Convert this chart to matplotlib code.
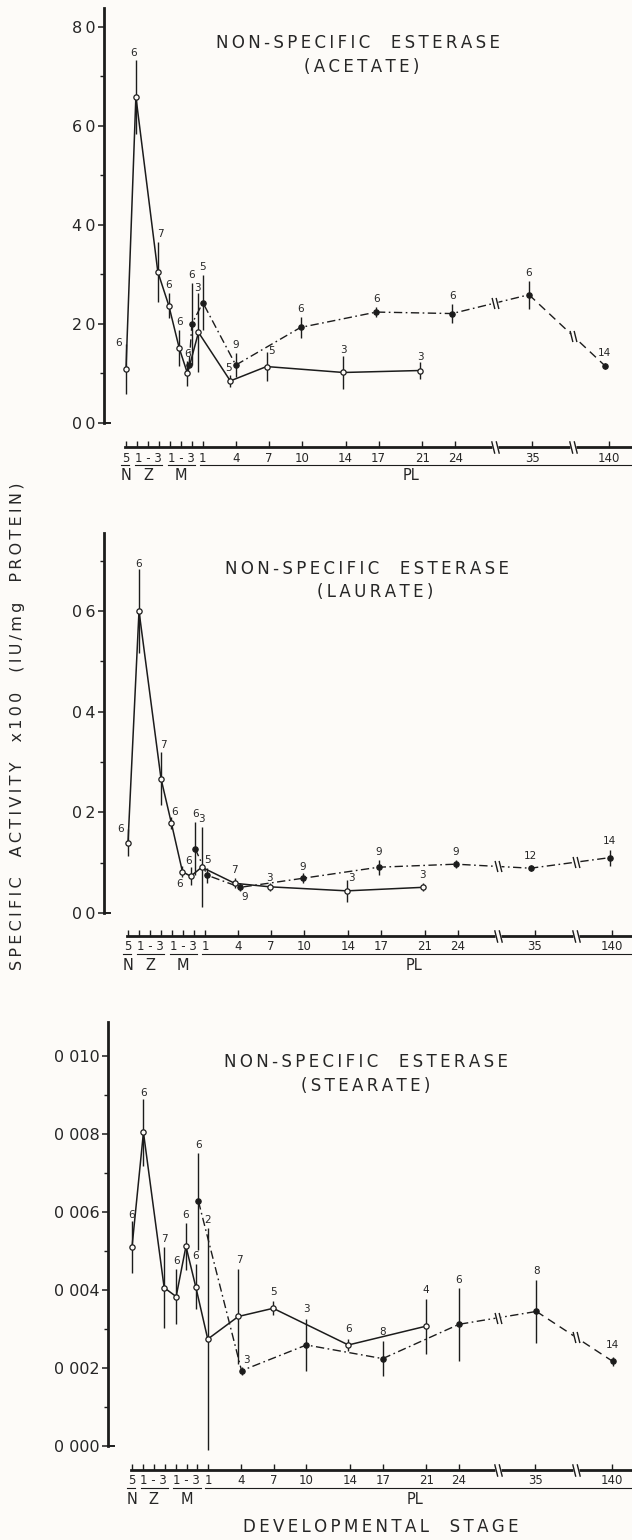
import matplotlib.pyplot as plt
import numpy as np
from matplotlib.path import Path

W, H = 632, 1540
BG = '#fdfbf8'
INK = '#1c1c1c'
TXT = '#262626'

plt.rcParams['font.family'] = ['DejaVu Sans']
plt.rcParams['text.color'] = TXT
plt.rcParams['axes.edgecolor'] = INK
plt.rcParams['xtick.color'] = INK
plt.rcParams['ytick.color'] = INK
plt.rcParams['ytick.labelcolor'] = TXT

# developmental stage scale: one unit per larval stage / PL day, compressed after PL24
stage_ticks = [0, 1, 2, 3, 4, 5, 6, 7, 10, 13, 16, 20, 23, 27, 30, 37, 44]
stage_label_x = [0, 2, 5, 7, 10, 13, 16, 20, 23, 27, 30, 37, 44]
stage_label_text = ['5', '1 - 3', '1 - 3', '1', '4', '7', '10', '14', '17', '21', '24', '35', '140']
group_x = [0, 2, 5, 26]
group_text = ['N', 'Z', 'M', 'PL']
group_spans = [(-0.5, 0.3), (0.8, 3.3), (3.8, 6.3), (6.7, 47)]
axis_breaks = [33.6, 40.7]

# acetate
ace_open_x = [0.0, 0.9, 2.9, 3.9, 4.85, 5.6, 6.6, 9.5, 12.8, 19.8, 26.8]
ace_open_y = [10.9, 65.9, 30.5, 23.7, 15.1, 10.0, 18.3, 8.5, 11.4, 10.2, 10.6]
ace_open_err = [5.0, 7.5, 6.0, 2.5, 3.6, 2.6, 8.0, 1.2, 2.9, 3.3, 1.7]
ace_open_n = [6, 6, 7, 6, 6, 6, 3, 5, 5, 3, 3]
ace_fill_x = [5.75, 6.0, 7.0, 10.0, 15.9, 22.8, 29.7, 36.7, 43.6]
ace_fill_y = [11.8, 20.0, 24.3, 11.7, 19.3, 22.4, 22.1, 25.9, 11.6]
ace_fill_err = [0.0, 8.2, 5.6, 2.4, 2.2, 1.0, 1.9, 2.8, 0.6]
ace_fill_n = [None, 6, 5, 9, 6, 6, 6, 6, 14]

# laurate
lau_open_x = [0.0, 1.0, 3.0, 3.95, 4.95, 5.7, 6.7, 9.7, 12.9, 19.9, 26.8]
lau_open_y = [0.140, 0.600, 0.267, 0.178, 0.082, 0.073, 0.091, 0.059, 0.052, 0.044, 0.051]
lau_open_err = [0.027, 0.084, 0.053, 0.012, 0.011, 0.018, 0.080, 0.010, 0.008, 0.022, 0.008]
lau_open_n = [6, 6, 7, 6, 6, 6, 3, 7, 3, 3, 3]
lau_fill_x = [6.1, 7.2, 10.2, 15.9, 22.8, 29.8, 36.6, 43.8]
lau_fill_y = [0.128, 0.075, 0.051, 0.069, 0.091, 0.097, 0.089, 0.110]
lau_fill_err = [0.052, 0.015, 0.008, 0.010, 0.015, 0.008, 0.006, 0.016]
lau_fill_n = [6, 5, 9, 9, 9, 9, 12, 14]

# stearate
ste_open_x = [0.0, 1.05, 2.95, 4.05, 4.95, 5.85, 6.95, 9.75, 12.95, 19.85, 26.95]
ste_open_y = [0.00510, 0.00804, 0.00406, 0.00383, 0.00512, 0.00408, 0.00274, 0.00332, 0.00353, 0.00259, 0.00307]
ste_open_err = [0.00066, 0.00085, 0.00104, 0.00070, 0.00060, 0.00058, 0.00285, 0.00122, 0.00018, 0.00015, 0.00071]
ste_open_n = [6, 6, 7, 6, 6, 6, 2, 7, 5, 6, 4]
ste_fill_x = [6.1, 10.05, 16.0, 23.0, 30.0, 37.1, 44.1]
ste_fill_y = [0.00627, 0.00193, 0.00259, 0.00224, 0.00312, 0.00345, 0.00217]
ste_fill_err = [0.00125, 0.00010, 0.00067, 0.00045, 0.00093, 0.00080, 0.00012]
ste_fill_n = [6, 3, 3, 8, 6, 8, 14]

# label offsets (pixels) where the count does not sit straight above the bar
ace_open_nudge = {0: (-7, 1), 1: (-2, 7), 2: (3, 8), 5: (0, 7), 6: (-1, 5), 7: (-2, 7), 8: (5, 1), 9: (0, 6), 10: (0, 5)}
ace_fill_nudge = {8: (0, 10)}
lau_open_nudge = {0: (-7, 0), 1: (0, 5), 2: (2, 7), 3: (3, 5), 4: (-3, -18), 5: (-2, 6), 9: (5, 2), 8: (0, 5)}
lau_fill_nudge = {2: (4, -14), 3: (0, 6), 6: (0, 9), 7: (0, 9)}
ste_open_nudge = {0: (0, 6), 1: (0, 6), 7: (1, 9), 8: (0, 9), 9: (0, 10), 10: (0, 9)}
ste_fill_nudge = {1: (5, 7), 2: (0, 10), 3: (0, 9), 5: (0, 9), 6: (0, 12)}

BREAK = Path([(-0.55, 0.9), (-0.1, -0.9), (0.1, 0.9), (0.55, -0.9)],
             [Path.MOVETO, Path.LINETO, Path.MOVETO, Path.LINETO])
DASHDOT = (0, (6, 2.5, 1.2, 2.5))
DASHED = (0, (6, 4))

fig = plt.figure(figsize=(W / 100, H / 100), dpi=100)
fig.patch.set_facecolor(BG)


def spaced(s):
    # open up the lettering a little, stencil style
    return '\u2009'.join(s)


def px_axes(left, top, right, bottom):
    return fig.add_axes([left / W, 1 - bottom / H, (right - left) / W, (bottom - top) / H])


def break_mark(ax, x, y, size):
    ax.plot([x], [y], ls='none', marker='s', ms=size * 0.55, mfc=BG, mec='none', zorder=5, clip_on=False)
    ax.plot([x], [y], ls='none', marker=BREAK, ms=size, mfc='none', mec=INK, mew=1.0, zorder=6, clip_on=False)


def stage_axis(left, p0, scale, line_y):
    sax = px_axes(left, line_y, W, line_y + 40)
    xmax = (W - p0) / scale
    sax.set_xlim((left - p0) / scale, xmax)
    sax.set_ylim(-40, 0)
    sax.patch.set_visible(False)
    for s in ['left', 'right', 'bottom']:
        sax.spines[s].set_visible(False)
    sax.spines['top'].set_linewidth(2.0)
    sax.spines['top'].set_bounds(-0.1, xmax)
    sax.xaxis.set_ticks_position('top')
    sax.set_xticks(stage_ticks)
    sax.tick_params(axis='x', direction='out', length=4, width=1, labeltop=False, labelbottom=False)
    sax.set_yticks([])
    for x, t in zip(stage_label_x, stage_label_text):
        sax.text(x, -11, t, ha='center', va='center', fontsize=8.5)
    for a, b in group_spans:
        sax.plot([a, b], [-17.5, -17.5], color=INK, lw=0.8, clip_on=False)
    for x, t in zip(group_x, group_text):
        sax.text(x, -29, t, ha='center', va='center', fontsize=10.5)
    for xb in axis_breaks:
        break_mark(sax, xb, 0, 9)


def series(ax, x, y, err, n, nudge, filled, dashed_last=False):
    x, y, err = np.array(x), np.array(y), np.array(err)
    ax.vlines(x, y - err, y + err, colors=INK, lw=1.0, zorder=2, clip_on=False)
    if filled:
        stop = len(x) - 1 if dashed_last else len(x)
        ax.plot(x[:stop], y[:stop], ls=DASHDOT, color=INK, lw=1.0, zorder=1)
        if dashed_last:
            ax.plot(x[-2:], y[-2:], ls=DASHED, color=INK, lw=1.0, zorder=1)
        for xb in axis_breaks:
            if x[0] < xb < x[-1]:
                break_mark(ax, xb, np.interp(xb, x, y), 8)
    else:
        ax.plot(x, y, ls='-', color=INK, lw=1.1, zorder=1)
    ax.plot(x, y, ls='none', marker='o', ms=3.8, mfc=INK if filled else BG,
            mec=INK, mew=0.9, zorder=3, clip_on=False)
    for i, (xi, top, ni) in enumerate(zip(x, y + err, n)):
        if ni is None:
            continue
        dx, dy = nudge.get(i, (0, 8))
        ax.annotate(str(ni), (xi, top), xytext=(dx, dy), textcoords='offset pixels',
                    ha='center', va='center', fontsize=7.5)


def panel(left, top, bottom, p0, scale, line_y, ymax, yt, ytext, yminor, title, sub, title_xy,
          open_data, fill_data, dashed_last):
    ax = px_axes(left, top, W, bottom)
    ax.set_xlim((left - p0) / scale, (W - p0) / scale)
    ax.set_ylim(0, ymax)
    ax.patch.set_visible(False)
    for s in ['top', 'right', 'bottom']:
        ax.spines[s].set_visible(False)
    ax.spines['left'].set_linewidth(2.0)
    ax.set_xticks([])
    ax.set_yticks(yt)
    ax.set_yticklabels(ytext)
    ax.set_yticks(yminor, minor=True)
    ax.tick_params(axis='y', which='major', direction='out', length=4, width=1.1, labelsize=11.5, pad=2)
    ax.tick_params(axis='y', which='minor', direction='out', length=3, width=1.0)
    ax.plot([0, 0.012], [0, 0], transform=ax.get_yaxis_transform(), color=INK, lw=1.4, clip_on=False)
    series(ax, *open_data, filled=False)
    series(ax, *fill_data, filled=True, dashed_last=dashed_last)
    (t1x, t1y), (t2x, t2y) = title_xy
    fig.text(t1x / W, 1 - t1y / H, spaced(title), ha='center', va='center', fontsize=12)
    fig.text(t2x / W, 1 - t2y / H, spaced(sub), ha='center', va='center', fontsize=12)
    stage_axis(left, p0, scale, line_y)
    return ax


panel(104, 8, 423, 126, 10.98, 447, 83.8,
      [0, 20, 40, 60, 80], [spaced(t) for t in ['00', '20', '40', '60', '80']], [10, 30, 50, 70],
      'NON-SPECIFIC  ESTERASE', '(ACETATE)', [(358, 43), (362, 67)],
      (ace_open_x, ace_open_y, ace_open_err, ace_open_n, ace_open_nudge),
      (ace_fill_x, ace_fill_y, ace_fill_err, ace_fill_n, ace_fill_nudge), True)

panel(104, 533, 913, 128, 11.0, 936, 0.755,
      [0, 0.2, 0.4, 0.6], [spaced(t) for t in ['00', '02', '04', '06']], [0.1, 0.3, 0.5, 0.7],
      'NON-SPECIFIC  ESTERASE', '(LAURATE)', [(367, 569), (375, 592)],
      (lau_open_x, lau_open_y, lau_open_err, lau_open_n, lau_open_nudge),
      (lau_fill_x, lau_fill_y, lau_fill_err, lau_fill_n, lau_fill_nudge), False)

panel(108, 1022, 1446, 132, 10.9, 1470, 0.01087,
      [0, 0.002, 0.004, 0.006, 0.008, 0.010], ['0 000', '0 002', '0 004', '0 006', '0 008', '0 010'],
      [0.001, 0.003, 0.005, 0.007, 0.009],
      'NON-SPECIFIC  ESTERASE', '(STEARATE)', [(366, 1062), (366, 1086)],
      (ste_open_x, ste_open_y, ste_open_err, ste_open_n, ste_open_nudge),
      (ste_fill_x, ste_fill_y, ste_fill_err, ste_fill_n, ste_fill_nudge), True)

fig.text(18 / W, 1 - 726 / H, spaced('SPECIFIC  ACTIVITY  x100  (IU/mg  PROTEIN)'),
         rotation=90, ha='center', va='center', fontsize=11.5)
fig.text(381 / W, 1 - 1527 / H, spaced('DEVELOPMENTAL  STAGE'), ha='center', va='center', fontsize=12)

fig.savefig('out.png', dpi=100, facecolor=BG)
